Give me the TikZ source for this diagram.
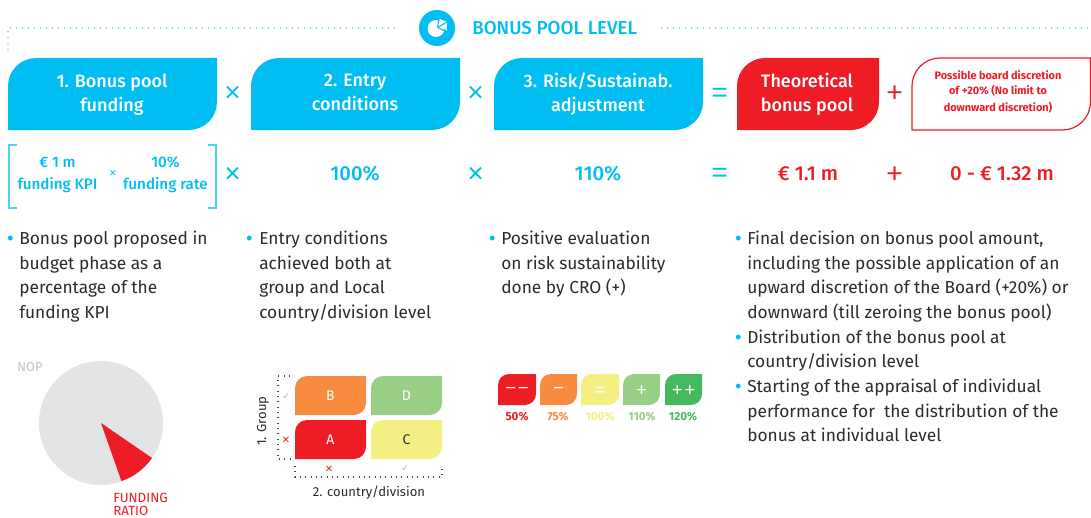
\documentclass[tikz,border=0pt]{standalone}
\usepackage{fontspec}
\setmainfont{Fira Sans}
\newfontfamily\symfont{DejaVu Sans}
\newfontfamily\medf{Fira Sans}[UprightFont=* Medium,BoldFont=* Medium]
\newfontfamily\lightf{Fira Sans}[UprightFont=* Light,BoldFont=* Light]
\definecolor{bluec}{HTML}{00BEF2}
\definecolor{redc}{HTML}{EE1C25}
\definecolor{orangec}{HTML}{F78B3F}
\definecolor{yellowc}{HTML}{F3EF82}
\definecolor{lgreenc}{HTML}{98CE86}
\definecolor{greenc}{HTML}{44B95F}
\definecolor{greyc}{HTML}{E3E4E6}
\definecolor{textc}{HTML}{2B2B2B}
\newcommand{\leaf}[7]{% name,x0,y0,x1,y1,r,style
  \path[#7] ({#2+#6},#3) -- (#4,#3) -- (#4,{#5-#6})
    .. controls (#4,{#5-0.45*#6}) and ({#4-0.45*#6},#5) .. ({#4-#6},#5)
    -- (#2,#5) -- (#2,{#3+#6})
    .. controls (#2,{#3+0.45*#6}) and ({#2+0.45*#6},#3) .. ({#2+#6},#3) -- cycle;
  \coordinate (#1) at ({(#2+#4)/2},{(#3+#5)/2});
}
\newcommand{\fs}[1]{\fontsize{#1}{#1}\selectfont}
\newcommand{\stt}{\vphantom{Tg}}
\tikzset{
  x=0.75pt,y=-0.75pt,
  head/.style={text=white,align=center,inner sep=0,font=\medf\fontsize{13.5}{18}\selectfont},
  val/.style={inner sep=0,font=\medf\fs{15.2}},
  op/.style={inner sep=0,font=\lightf\fs{29}},
  body/.style={anchor=base west,inner sep=0,text=textc,font=\fs{13}},
  bul/.style={anchor=base west,inner sep=0,text=bluec,font=\fs{13.1}\bfseries},
  dots/.style={draw=bluec!55,line width=0.9pt,dash pattern=on 0.9pt off 3.6pt},
  gdots/.style={draw=black!70,line width=0.8pt,dash pattern=on 0.8pt off 3.2pt},
  tiny/.style={inner sep=0,font=\fs{8.7}\bfseries},
  mlab/.style={inner sep=0,font=\fs{10.5}},
  rsym/.style={inner sep=0,text=white,font=\lightf\fs{19}},
}
\begin{document}
\begin{tikzpicture}
\clip (0,0) rectangle (1091,517);
% header
\coordinate (dl0) at (8,50); \coordinate (dl1) at (8,28); \coordinate (dl2) at (397,28);
\coordinate (dr0) at (661,28); \coordinate (dr1) at (1091,28);
\draw[dots] (dl0) -- (dl1) -- (dl2);
\draw[dots] (dr0) -- (dr1);
\node[circle,fill=bluec,minimum size=27pt,inner sep=0] (ico) at (437,28) {};
\fill[white] (436,28.5) circle[radius=8.5];
\fill[white] (438.5,18.5) -- (447,22) -- (446.5,31) -- cycle;
\draw[bluec,line width=0.8pt] (437.5,27.5) -- (439,18);
\draw[bluec,line width=0.8pt] (437.5,27.5) -- (446,31.5);
\draw[bluec,line width=0.8pt] (437.5,27.5) -- (447,22);
\node[inner sep=0,anchor=west,text=bluec,font=\medf\fs{14.05}] (title) at (472,28) {BONUS POOL LEVEL};
% heads
\leaf{h1}{8}{58}{217}{130}{28}{fill=bluec}
\leaf{h2}{251}{58}{460}{130}{28}{fill=bluec}
\leaf{h3}{494}{58}{703}{130}{28}{fill=bluec}
\leaf{h4}{737}{58}{879}{130}{28}{fill=redc}
\leaf{h5}{912}{58}{1090.5}{130}{28}{draw=redc,line width=0.9pt,fill=white}
\node[head] at (112,94.5) {\stt 1. Bonus pool\\\stt funding};
\node[head] at (355,94.5) {\stt 2. Entry\\\stt conditions};
\node[head] at (598,94.5) {\stt 3. Risk/Sustainab.\\\stt adjustment};
\node[head] at (807,94.5) {\stt Theoretical\\\stt bonus pool};
\node[inner sep=0,align=center,text=redc,font=\fs{8.2}\bfseries] at (998,92) {Possible board discretion\\[3.2pt]of +20\% (No limit to\\[3.2pt]downward discretion)};
% operators row 1
\node[op,text=bluec] at (233,95) {×};
\node[op,text=bluec] at (476,95) {×};
\node[op,text=bluec] at (720,97) {=};
\node[op,text=redc] at (895,96) {+};
% row 2
\coordinate (bl0) at (17,145);\coordinate (bl1) at (9,145);\coordinate (bl2) at (9,208);\coordinate (bl3) at (17,208);
\coordinate (br0) at (208,145);\coordinate (br1) at (216,145);\coordinate (br2) at (216,208);\coordinate (br3) at (208,208);
\draw[bluec!70,line width=0.9pt] (bl0) -- (bl1) -- (bl2) -- (bl3);
\draw[bluec!70,line width=0.9pt] (br0) -- (br1) -- (br2) -- (br3);
\node[inner sep=0,align=center,text=bluec,font=\medf\fontsize{11.4}{16.5}\selectfont] at (57.5,175) {\stt € 1 m\\\stt funding KPI};
\node[inner sep=0,text=bluec,font=\lightf\fs{13}] at (113,174) {×};
\node[inner sep=0,align=center,text=bluec,font=\medf\fontsize{11.4}{16.5}\selectfont] at (165.5,175) {\stt 10\%\\\stt funding rate};
\node[op,text=bluec] at (233,176) {×};
\node[val,text=bluec] at (355,174) {100\%};
\node[op,text=bluec] at (476,176) {×};
\node[val,text=bluec] at (598,174) {110\%};
\node[op,text=bluec] at (720,177) {=};
\node[val,text=redc] at (808,174) {€ 1.1 m};
\node[op,text=redc] at (895,177) {+};
\node[val,text=redc] at (1002,174) {0 - € 1.32 m};
% column 1
\node[bul] at (7,244) {•};
\node[body] at (19,244) {Bonus pool proposed in};
\node[body] at (19,269) {budget phase as a};
\node[body] at (19,293) {percentage of the};
\node[body] at (19,318) {funding KPI};
% column 2
\node[bul] at (246,244) {•};
\node[body] at (259,244) {Entry conditions};
\node[body] at (259,269) {achieved both at};
\node[body] at (259,293) {group and Local};
\node[body] at (259,318) {country/division level};
% column 3
\node[bul] at (489,244) {•};
\node[body] at (501,244) {Positive evaluation};
\node[body] at (501,269) {on risk sustainability};
\node[body] at (501,293) {done by CRO (+)};
% column 4
\node[bul] at (735,244) {•};
\node[body] at (747,244) {Final decision on bonus pool amount,};
\node[body] at (747,269) {including the possible application of an};
\node[body] at (747,293) {upward discretion of the Board (+20\%) or};
\node[body] at (747,318) {downward (till zeroing the bonus pool)};
\node[bul] at (735,343) {•};
\node[body] at (747,343) {Distribution of the bonus pool at};
\node[body] at (747,367) {country/division level};
\node[bul] at (735,392) {•};
\node[body] at (747,392) {Starting of the appraisal of individual};
\node[body] at (747,417) {performance for\ \ the distribution of the};
\node[body] at (747,441) {bonus at individual level};
% pie
\fill[greyc] (101,423) circle[radius=62];
\fill[redc] (101,423) -- (152,458) arc[start angle=-35,end angle=-71,x radius=62,y radius=-62] -- cycle;
\node[inner sep=0,text=greyc!85!black,font=\fs{9.6}] at (30,367) {NOP};
\node[inner sep=0,anchor=base west,text=redc,font=\fs{10}] at (113,502) {FUNDING};
\node[inner sep=0,anchor=base west,text=redc,font=\fs{10}] at (113,515) {RATIO};
% matrix
\leaf{mb}{295}{376}{366}{415}{12}{fill=orangec}
\leaf{md}{371}{376}{442}{415}{12}{fill=lgreenc}
\leaf{ma}{295}{420}{366}{459}{12}{fill=redc}
\leaf{mc}{371}{420}{442}{459}{12}{fill=yellowc}
\node[mlab,text=white] at (mb) {B};
\node[mlab,text=white] at (md) {D};
\node[mlab,text=white] at (ma) {A};
\node[mlab,text=textc] at (mc) {C};
\coordinate (v0) at (290,376);\coordinate (v1) at (278,376);\coordinate (v2) at (278,459);\coordinate (v3) at (290,459);
\draw[gdots] (v0) -- (v1) -- (v2) -- (v3);
\coordinate (u0) at (295,466);\coordinate (u1) at (295,477);\coordinate (u2) at (442,477);\coordinate (u3) at (442,466);
\draw[gdots] (u0) -- (u1) -- (u2) -- (u3);
\node[inner sep=0,text=lgreenc,font=\symfont\fs{7}] at (286,397) {✓};
\node[inner sep=0,text=redc,font=\symfont\fs{7.5}] at (286,440) {✕};
\node[inner sep=0,text=redc,font=\symfont\fs{7.5}] at (329,469) {✕};
\node[inner sep=0,text=lgreenc,font=\symfont\fs{7}] at (405,469) {✓};
\node[inner sep=0,rotate=90,text=textc,font=\fs{9.8}] at (263,421) {1. Group};
\node[inner sep=0,text=textc,font=\fs{9.8}] at (369,493) {2. country/division};
% risk scale
\leaf{r1}{498}{374}{536}{405}{11}{fill=redc}
\leaf{r2}{540}{374}{577}{405}{11}{fill=orangec}
\leaf{r3}{581}{374}{619}{405}{11}{fill=yellowc}
\leaf{r4}{623}{374}{660}{405}{11}{fill=lgreenc}
\leaf{r5}{665}{374}{702}{405}{11}{fill=greenc}
\node[rsym] at (517,392) {−−};
\node[rsym] at (558.5,392) {−};
\node[rsym] at (600,393) {=};
\node[rsym] at (641.5,392) {+};
\node[rsym] at (683.5,392) {++};
\node[tiny,text=redc] at (517,417) {50\%};
\node[tiny,text=orangec] at (558,417) {75\%};
\node[tiny,text=yellowc] at (600,417) {100\%};
\node[tiny,text=lgreenc] at (642,417) {110\%};
\node[tiny,text=greenc] at (683,417) {120\%};
\end{tikzpicture}
\end{document}
